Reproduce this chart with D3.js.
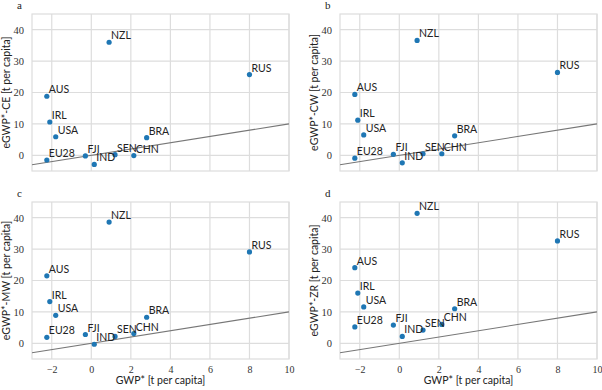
<!DOCTYPE html>
<html>
<head>
<meta charset="utf-8">
<script src="https://cdn.jsdelivr.net/npm/d3@7"></script>
<style>
  body { margin: 0; background: #fff; }
  .tick text { font-family: "Liberation Serif", "DejaVu Serif", serif; }
</style>
</head>
<body>
<div id="myViz"></div>
<script>
// countries and GWP* values (x axis, same for every panel)
var countries = ["NZL", "RUS", "AUS", "IRL", "USA", "EU28", "FJI", "IND", "SEN", "CHN", "BRA"];
var gwpStar   = [0.9, 8.0, -2.25, -2.1, -1.8, -2.25, -0.3, 0.15, 1.2, 2.15, 2.8];

// eGWP* values per method
var eCE = [36.0, 25.7, 18.8, 10.6, 5.9, -1.5, -0.2, -2.9, 0.2, -0.1, 5.6];
var eCW = [36.6, 26.4, 19.4, 11.2, 6.5, -0.9, 0.3, -2.4, 0.5, 0.5, 6.2];
var eMW = [38.6, 29.1, 21.5, 13.3, 8.9, 1.9, 2.8, -0.3, 2.2, 3.1, 8.3];
var eZR = [41.4, 32.6, 24.1, 16.0, 11.6, 5.2, 5.8, 2.2, 4.2, 6.0, 11.0];

var panelLetters = ["a", "b", "c", "d"];
var panelNames = ["eGWP*-CE", "eGWP*-CW", "eGWP*-MW", "eGWP*-ZR"];
var panelValues = [eCE, eCW, eMW, eZR];

var xTicks = [-2, 0, 2, 4, 6, 8, 10];
var yTicks = [0, 10, 20, 30, 40];
var refLine = [-3, 10]; // 1:1 line

var width = 257, height = 157;
var origins = [[32, 14], [340, 14], [32, 202], [340, 202]];

var svg = d3.select("#myViz")
  .append("svg")
  .attr("width", 602)
  .attr("height", 390);

var x = d3.scaleLinear().domain([-3, 10]).range([0, width]);
var y = d3.scaleLinear().domain([-5, 45]).range([height, 0]);

var gridColor = "#dddddd";
var dotColor = "#1f77b4";
var labelFont = "Lato, 'DejaVu Sans', sans-serif";

panelValues.forEach(function(vals, i) {
  var g = svg.append("g")
    .attr("transform", `translate(${origins[i][0]}, ${origins[i][1]})`);

  // grid
  g.append("g").selectAll("line")
    .data(xTicks)
    .enter().append("line")
      .attr("x1", d => x(d)).attr("x2", d => x(d))
      .attr("y1", 0).attr("y2", height)
      .style("stroke", gridColor).style("stroke-width", 1.2);
  g.append("g").selectAll("line")
    .data(yTicks)
    .enter().append("line")
      .attr("x1", 0).attr("x2", width)
      .attr("y1", d => y(d)).attr("y2", d => y(d))
      .style("stroke", gridColor).style("stroke-width", 1.2);

  // frame
  g.append("rect")
    .attr("width", width).attr("height", height)
    .style("fill", "none").style("stroke", gridColor).style("stroke-width", 1.2);

  // y axis ticks (labels only)
  var yAx = g.append("g")
    .call(d3.axisLeft(y).tickValues(yTicks).tickSize(0).tickPadding(8));
  yAx.select(".domain").remove();
  yAx.selectAll("text").style("font-size", "10.5px").style("fill", "#333");

  // x axis only on bottom row
  if (i >= 2) {
    var xAx = g.append("g")
      .attr("transform", "translate(0," + height + ")")
      .call(d3.axisBottom(x).tickValues(xTicks).tickSize(0).tickPadding(7));
    xAx.select(".domain").remove();
    xAx.selectAll("text").style("font-size", "10px").style("fill", "#333");

    g.append("text")
      .attr("x", width / 2)
      .attr("y", height + 25)
      .attr("text-anchor", "middle")
      .style("font-family", labelFont)
      .style("font-size", "10.5px")
      .style("fill", "#222")
      .text("GWP* [t per capita]");
  }

  // y label
  g.append("text")
    .attr("transform", `translate(-22, ${height / 2}) rotate(-90)`)
    .attr("text-anchor", "middle")
    .style("font-family", labelFont)
    .style("font-size", "10.5px")
    .style("fill", "#222")
    .text(panelNames[i] + " [t per capita]");

  // panel letter
  g.append("text")
    .attr("x", -15)
    .attr("y", -5)
    .style("font-family", "'Liberation Serif', serif")
    .style("font-size", "11px")
    .style("fill", "#222")
    .text(panelLetters[i]);

  // 1:1 reference line
  g.append("path")
    .datum(refLine)
    .attr("d", d3.line().x(d => x(d)).y(d => y(d)))
    .style("stroke", "#777").style("stroke-width", 1.1).style("fill", "none");

  // points
  var pts = countries.map((c, k) => ({c: c, x: gwpStar[k], y: vals[k]}));
  g.append("g").selectAll("circle")
    .data(pts)
    .enter().append("circle")
      .attr("cx", d => x(d.x))
      .attr("cy", d => y(d.y))
      .attr("r", 2.6)
      .style("fill", dotColor);

  g.append("g").selectAll("text")
    .data(pts)
    .enter().append("text")
      .attr("x", d => x(d.x) + 2)
      .attr("y", d => y(d.y) - 3)
      .style("font-family", labelFont)
      .style("font-size", "10.5px")
      .style("fill", "#222")
      .text(d => d.c);
});
</script>
</body>
</html>
